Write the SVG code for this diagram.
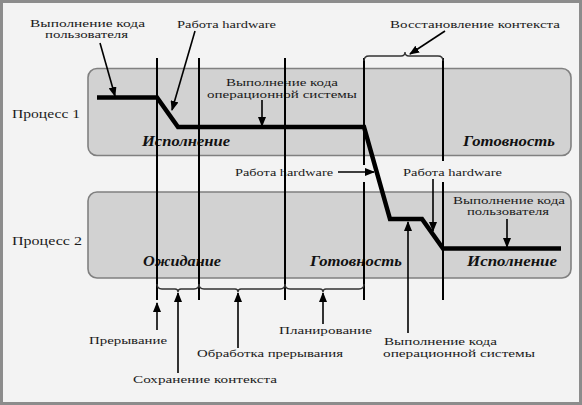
<svg xmlns="http://www.w3.org/2000/svg" width="582" height="405" viewBox="0 0 582 405">
<style>
.lbl{font-family:"Liberation Serif","Times New Roman",serif;font-size:11px;fill:#1a1a1a}
.st{font-family:"Liberation Serif","Times New Roman",serif;font-size:14px;font-weight:bold;font-style:italic;fill:#111}
.pr{font-family:"Liberation Serif","Times New Roman",serif;font-size:13px;fill:#1a1a1a}
.box{fill:#d2d2d2;stroke:#808080;stroke-width:1.6}
.vl{stroke:#000;stroke-width:2;fill:none}
.ar{stroke:#000;stroke-width:1.6;fill:none;marker-end:url(#ah)}
.br{stroke:#333;stroke-width:1.4;fill:none}
.path{stroke:#000;stroke-width:4.5;fill:none;stroke-linejoin:miter}
</style>
<defs>
<marker id="ah" markerUnits="userSpaceOnUse" markerWidth="10" markerHeight="8" refX="9" refY="4" orient="auto">
<path d="M0,0 L10,4 L0,8 Z" fill="#000"/>
</marker>
</defs>
<rect x="1.5" y="1.5" width="579" height="402" fill="#f3f3f3" stroke="#8c8c8c" stroke-width="3"/>

<g id="process1">
<rect class="box" x="88" y="68.5" width="483" height="87" rx="9"/>
<text class="pr" x="12" y="118" textLength="68" lengthAdjust="spacingAndGlyphs">Процесс 1</text>
</g>
<g id="process2">
<rect class="box" x="88" y="192" width="483" height="86" rx="9"/>
<text class="pr" x="12" y="245" textLength="70" lengthAdjust="spacingAndGlyphs">Процесс 2</text>
</g>

<g id="states">
<text class="st" x="142" y="146" textLength="88" lengthAdjust="spacingAndGlyphs">Исполнение</text>
<text class="st" x="463" y="146" textLength="92" lengthAdjust="spacingAndGlyphs">Готовность</text>
<text class="st" x="143" y="266" textLength="78" lengthAdjust="spacingAndGlyphs">Ожидание</text>
<text class="st" x="310" y="266" textLength="92" lengthAdjust="spacingAndGlyphs">Готовность</text>
<text class="st" x="467" y="266" textLength="90" lengthAdjust="spacingAndGlyphs">Исполнение</text>
</g>

<g id="labels">
<text class="lbl" x="30" y="27" textLength="115" lengthAdjust="spacingAndGlyphs">Выполнение кода</text>
<text class="lbl" x="45" y="38" textLength="83" lengthAdjust="spacingAndGlyphs">пользователя</text>
<text class="lbl" x="177" y="28" textLength="99" lengthAdjust="spacingAndGlyphs">Работа hardware</text>
<text class="lbl" x="390" y="28" textLength="170" lengthAdjust="spacingAndGlyphs">Восстановление контекста</text>
<text class="lbl" x="226" y="86" textLength="112" lengthAdjust="spacingAndGlyphs">Выполнение кода</text>
<text class="lbl" x="207" y="97.5" textLength="150" lengthAdjust="spacingAndGlyphs">операционной системы</text>
<text class="lbl" x="235" y="176" textLength="98" lengthAdjust="spacingAndGlyphs">Работа hardware</text>
<text class="lbl" x="403" y="176" textLength="99" lengthAdjust="spacingAndGlyphs">Работа hardware</text>
<text class="lbl" x="453" y="204" textLength="112" lengthAdjust="spacingAndGlyphs">Выполнение кода</text>
<text class="lbl" x="467" y="215" textLength="82" lengthAdjust="spacingAndGlyphs">пользователя</text>
<text class="lbl" x="89" y="344" textLength="78" lengthAdjust="spacingAndGlyphs">Прерывание</text>
<text class="lbl" x="133" y="383" textLength="144" lengthAdjust="spacingAndGlyphs">Сохранение контекста</text>
<text class="lbl" x="197" y="357" textLength="146" lengthAdjust="spacingAndGlyphs">Обработка прерывания</text>
<text class="lbl" x="279" y="334" textLength="93" lengthAdjust="spacingAndGlyphs">Планирование</text>
<text class="lbl" x="384" y="345" textLength="113" lengthAdjust="spacingAndGlyphs">Выполнение кода</text>
<text class="lbl" x="383" y="357" textLength="152" lengthAdjust="spacingAndGlyphs">операционной системы</text>
</g>

<g id="connectors">
<line class="vl" x1="157" y1="58" x2="157" y2="300"/>
<line class="vl" x1="199" y1="58" x2="199" y2="300"/>
<line class="vl" x1="285" y1="58" x2="285" y2="300"/>
<line class="vl" x1="364" y1="58" x2="364" y2="165"/>
<line class="vl" x1="364" y1="182" x2="364" y2="300"/>
<line class="vl" x1="443" y1="58" x2="443" y2="161"/>
<line class="vl" x1="443" y1="182" x2="443" y2="300"/>

<path class="path" d="M97,97.5 L157,97.5 L178,127 L364,127 L390,219 L422,219 L443,248.5 L561,248.5"/>

<path class="br" d="M364,61 Q364,56 369,56 L401,56 Q405,56 405,52 Q405,56 409,56 L438,56 Q443,56 443,61"/>
<path class="br" d="M157,284 Q157,289 162,289 L175,289 Q178,289 178,292 Q178,289 181,289 L194,289 Q199,289 199,284"/>
<path class="br" d="M199,284 Q199,289 204,289 L235,289 Q238,289 238,292 Q238,289 241,289 L280,289 Q285,289 285,284"/>
<path class="br" d="M285,284 Q285,289 290,289 L320,289 Q323,289 323,292 Q323,289 326,289 L359,289 Q364,289 364,284"/>

<line class="ar" x1="100" y1="43" x2="115" y2="96"/>
<line class="ar" x1="195" y1="31" x2="172" y2="110"/>
<line class="ar" x1="262" y1="100" x2="262" y2="126"/>
<line class="ar" x1="445" y1="31" x2="410" y2="54"/>
<line class="ar" x1="338" y1="172" x2="374" y2="172"/>
<line class="ar" x1="433" y1="179" x2="433" y2="231"/>
<line class="ar" x1="507" y1="219" x2="507" y2="247"/>
<line class="ar" x1="157" y1="330" x2="157" y2="303"/>
<line class="ar" x1="178" y1="373" x2="178" y2="293"/>
<line class="ar" x1="238" y1="348" x2="238" y2="293"/>
<line class="ar" x1="323" y1="324" x2="323" y2="293"/>
<line class="ar" x1="408" y1="333" x2="408" y2="222"/>
</g>
</svg>
